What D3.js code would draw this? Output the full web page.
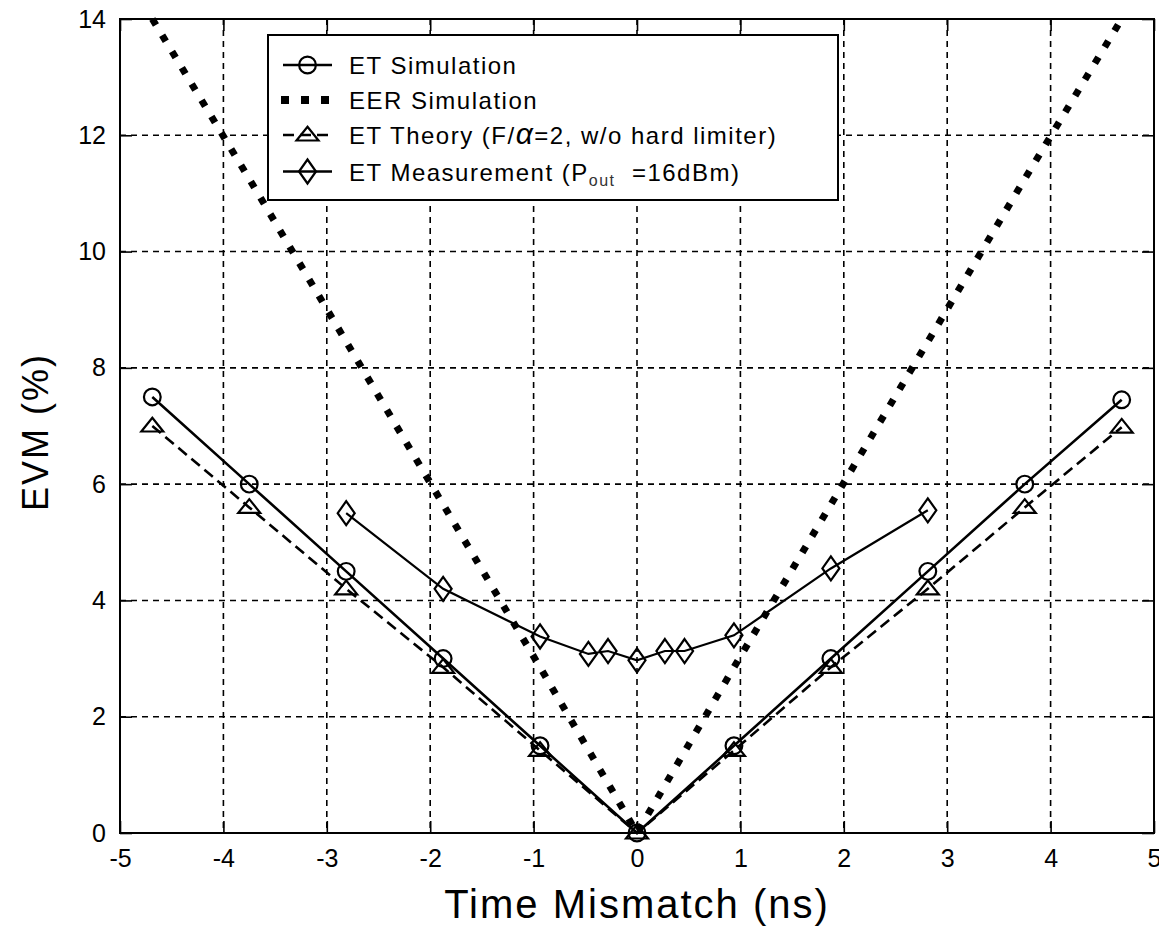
<!DOCTYPE html>
<html>
<head>
<meta charset="utf-8">
<script src="https://cdn.jsdelivr.net/npm/d3@7"></script>
<style>
  body { margin: 0; background: #fff; }
  svg text { font-family: "Liberation Sans", Arial, sans-serif; fill: #000; }
</style>
</head>
<body>
<div id="chart"></div>
<script>
"use strict";

// time offsets (ns) shared by the simulation and theory curves
var simX = [-4.6875, -3.75, -2.8125, -1.875, -0.9375, 0, 0.9375, 1.875, 2.8125, 3.75, 4.6875];
var etSim = [7.5, 6.0, 4.5, 3.0, 1.5, 0, 1.5, 3.0, 4.5, 6.0, 7.45];
var eerSim = [14.0, 11.25, 8.45, 5.65, 2.85, 0, 2.85, 5.65, 8.45, 11.25, 14.0];
var etTheory = [7.0, 5.6, 4.2, 2.85, 1.42, 0, 1.42, 2.85, 4.2, 5.6, 6.98];
// measured points
var measX = [-2.8125, -1.875, -0.9375, -0.47, -0.28, 0, 0.27, 0.46, 0.9375, 1.875, 2.8125];
var etMeas = [5.5, 4.2, 3.38, 3.08, 3.13, 2.97, 3.13, 3.13, 3.4, 4.55, 5.55];

var xTicks = [-5, -4, -3, -2, -1, 0, 1, 2, 3, 4, 5];
var yTicks = [0, 2, 4, 6, 8, 10, 12, 14];

var width = 1159, height = 931;
var margin = { top: 19, right: 5, bottom: 98, left: 120 };
var w = width - margin.left - margin.right;
var h = height - margin.top - margin.bottom;

var svg = d3.select("#chart").append("svg")
    .attr("width", width)
    .attr("height", height);

var g = svg.append("g")
    .attr("transform", "translate(" + margin.left + "," + margin.top + ")");

var x = d3.scaleLinear().domain([-5, 5]).range([0, w]);
var y = d3.scaleLinear().domain([0, 14]).range([h, 0]);

// plain hyphen for negatives, like the old plotting tool
var plainFmt = function (d) { return String(d); };

// dashed grid
g.append("g").selectAll("line")
  .data(xTicks.slice(1, -1))
  .enter().append("line")
    .attr("x1", function (d) { return x(d); })
    .attr("x2", function (d) { return x(d); })
    .attr("y1", 0).attr("y2", h)
    .attr("stroke", "#000").attr("stroke-width", 1.6)
    .attr("stroke-dasharray", "6,5");
g.append("g").selectAll("line")
  .data(yTicks.slice(1, -1))
  .enter().append("line")
    .attr("y1", function (d) { return y(d); })
    .attr("y2", function (d) { return y(d); })
    .attr("x1", 0).attr("x2", w)
    .attr("stroke", "#000").attr("stroke-width", 1.6)
    .attr("stroke-dasharray", "6,5");

// axes with inward ticks on all four sides
function styleAxis(sel) {
    sel.select(".domain").remove();
    sel.selectAll(".tick line").attr("stroke", "#000").attr("stroke-width", 1.6);
    sel.selectAll("text")
        .style("font-size", "25px")
        .style("font-family", "'Liberation Sans', Arial, sans-serif")
        .attr("fill", "#000");
}
g.append("g")
    .attr("transform", "translate(0," + h + ")")
    .call(d3.axisBottom(x).tickValues(xTicks).tickFormat(plainFmt)
        .tickSizeInner(-12).tickSizeOuter(0).tickPadding(16))
    .call(styleAxis);
g.append("g")
    .call(d3.axisTop(x).tickValues(xTicks).tickSizeInner(-12).tickSizeOuter(0).tickFormat(""))
    .call(styleAxis);
g.append("g")
    .call(d3.axisLeft(y).tickValues(yTicks).tickFormat(plainFmt)
        .tickSizeInner(-12).tickSizeOuter(0).tickPadding(14))
    .call(styleAxis);
g.append("g")
    .attr("transform", "translate(" + w + ",0)")
    .call(d3.axisRight(y).tickValues(yTicks).tickSizeInner(-12).tickSizeOuter(0).tickFormat(""))
    .call(styleAxis);

// frame
g.append("rect")
    .attr("width", w).attr("height", h)
    .attr("fill", "none").attr("stroke", "#000").attr("stroke-width", 2);

var line = d3.line()
    .x(function (d) { return x(d[0]); })
    .y(function (d) { return y(d[1]); });

function pairs(xs, ys) { return xs.map(function (v, i) { return [v, ys[i]]; }); }

var circleSym = d3.symbol().type(d3.symbolCircle).size(220);
function triPath(s) { return "M0," + (-s * 0.75) + "L" + s + "," + (s * 0.5) + "L" + (-s) + "," + (s * 0.5) + "Z"; }
function diaPath(a, b) { return "M0," + (-b) + "L" + a + ",0L0," + b + "L" + (-a) + ",0Z"; }

// EER simulation: heavy dotted line
g.append("path")
    .datum(pairs(simX, eerSim))
    .attr("d", line)
    .attr("fill", "none").attr("stroke", "#000")
    .attr("stroke-width", 7)
    .attr("stroke-dasharray", "7,12");

// ET theory: dashed with triangles
g.append("path")
    .datum(pairs(simX, etTheory))
    .attr("d", line)
    .attr("fill", "none").attr("stroke", "#000")
    .attr("stroke-width", 2.6)
    .attr("stroke-dasharray", "11,6");
g.append("g").selectAll("path")
  .data(pairs(simX, etTheory))
  .enter().append("path")
    .attr("transform", function (d) { return "translate(" + x(d[0]) + "," + y(d[1]) + ")"; })
    .attr("d", triPath(11))
    .attr("fill", "none").attr("stroke", "#000").attr("stroke-width", 2.2);

// ET simulation: solid with circles
g.append("path")
    .datum(pairs(simX, etSim))
    .attr("d", line)
    .attr("fill", "none").attr("stroke", "#000").attr("stroke-width", 2.6);
g.append("g").selectAll("path")
  .data(pairs(simX, etSim))
  .enter().append("path")
    .attr("transform", function (d) { return "translate(" + x(d[0]) + "," + y(d[1]) + ")"; })
    .attr("d", circleSym)
    .attr("fill", "none").attr("stroke", "#000").attr("stroke-width", 2.2);

// ET measurement: solid with diamonds
g.append("path")
    .datum(pairs(measX, etMeas))
    .attr("d", line)
    .attr("fill", "none").attr("stroke", "#000").attr("stroke-width", 2.2);
g.append("g").selectAll("path")
  .data(pairs(measX, etMeas))
  .enter().append("path")
    .attr("transform", function (d) { return "translate(" + x(d[0]) + "," + y(d[1]) + ")"; })
    .attr("d", diaPath(8.5, 12))
    .attr("fill", "none").attr("stroke", "#000").attr("stroke-width", 2.2);

// axis titles
svg.append("text")
    .attr("x", margin.left + w / 2)
    .attr("y", 918)
    .attr("text-anchor", "middle")
    .style("font-size", "40px")
    .style("letter-spacing", "2px")
    .text("Time Mismatch (ns)");
svg.append("text")
    .attr("transform", "translate(48," + (margin.top + h / 2 + 6) + ") rotate(-90)")
    .attr("text-anchor", "middle")
    .style("font-size", "36px")
    .style("letter-spacing", "2px")
    .text("EVM (%)");

// legend
var legend = svg.append("g").attr("transform", "translate(268,35)");
legend.append("rect")
    .attr("width", 570).attr("height", 165)
    .attr("fill", "#fff").attr("stroke", "#000").attr("stroke-width", 2);

var rowY = [30, 65, 100, 136.5];
var lx0 = 15, lx1 = 64, lxm = 39.5, tx = 81;

// row 1
legend.append("line").attr("x1", lx0).attr("x2", lx1).attr("y1", rowY[0]).attr("y2", rowY[0])
    .attr("stroke", "#000").attr("stroke-width", 2.6);
legend.append("path").attr("transform", "translate(" + lxm + "," + rowY[0] + ")")
    .attr("d", circleSym).attr("fill", "none").attr("stroke", "#000").attr("stroke-width", 2.2);
// row 2
legend.append("line").attr("x1", lx0 - 2).attr("x2", lx1 + 2).attr("y1", rowY[1]).attr("y2", rowY[1])
    .attr("stroke", "#000").attr("stroke-width", 8).attr("stroke-dasharray", "8,12");
// row 3
legend.append("line").attr("x1", lx0).attr("x2", lx1).attr("y1", rowY[2]).attr("y2", rowY[2])
    .attr("stroke", "#000").attr("stroke-width", 2.6).attr("stroke-dasharray", "11,6");
legend.append("path").attr("transform", "translate(" + lxm + "," + rowY[2] + ")")
    .attr("d", triPath(11)).attr("fill", "none").attr("stroke", "#000").attr("stroke-width", 2.2);
// row 4
legend.append("line").attr("x1", lx0).attr("x2", lx1).attr("y1", rowY[3]).attr("y2", rowY[3])
    .attr("stroke", "#000").attr("stroke-width", 2.6);
legend.append("path").attr("transform", "translate(" + lxm + "," + rowY[3] + ")")
    .attr("d", diaPath(8.5, 12)).attr("fill", "none").attr("stroke", "#000").attr("stroke-width", 2.2);

function legendText(i) {
    return legend.append("text")
        .attr("x", tx).attr("y", rowY[i] + 9)
        .style("font-size", "24px")
        .style("letter-spacing", "1.5px");
}
legendText(0).text("ET Simulation");
legendText(1).text("EER Simulation");
var t3 = legendText(2);
t3.append("tspan").text("ET Theory (F/");
t3.append("tspan").style("font-style", "italic").style("font-size", "30px").text("\u03B1");
t3.append("tspan").text("=2, w/o hard limiter)");
var t4 = legendText(3);
t4.append("tspan").text("ET Measurement (P");
t4.append("tspan").attr("dy", 5).style("font-size", "16px").style("fill", "#333").text("out");
t4.append("tspan").attr("dy", -5).text("\u00A0 =16dBm)");
</script>
</body>
</html>
